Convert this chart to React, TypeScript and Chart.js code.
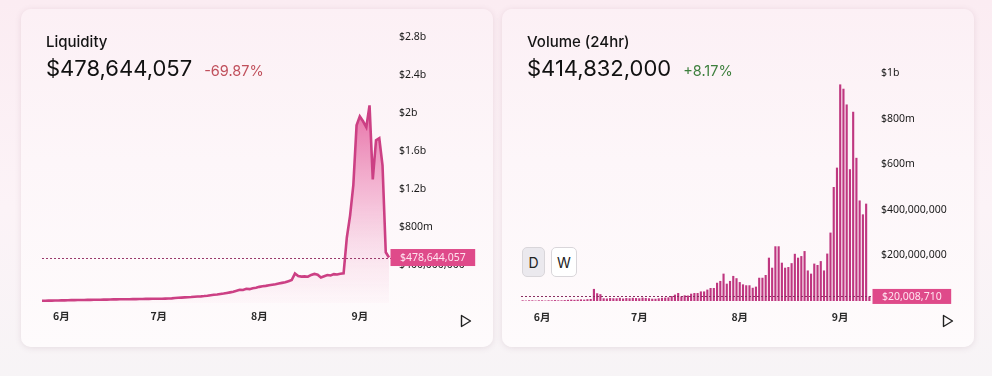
import React, { useEffect, useRef } from 'react';
import { Chart, registerables } from 'chart.js';

Chart.register(...registerables);

// ---- data -----------------------------------------------------------------
const monthSpans: [number, number, number][] = [
  [5, 26, 31],
  [6, 1, 30],
  [7, 1, 31],
  [8, 1, 31],
  [9, 1, 10],
];
const dateLabels: string[] = [];
for (const [m, a, b] of monthSpans) for (let d = a; d <= b; d++) dateLabels.push(`${m}-${d}`);

// liquidity, $ millions, one per day
const liquidityMay = [23, 24, 25, 25, 26, 27];
const liquidityJun = [28, 28, 29, 30, 30, 31, 31, 32, 33, 33, 34, 35, 35, 36, 36, 37, 38, 38, 39, 39, 40, 40, 41, 41, 42, 42, 43, 43, 44, 44];
const liquidityJul = [44, 45, 46, 47, 49, 52, 55, 57, 59, 61, 63, 66, 68, 70, 73, 77, 82, 86, 90, 95, 100, 106, 112, 118, 128, 140, 137, 150, 146, 156, 160];
const liquidityAug = [170, 176, 180, 186, 192, 198, 206, 212, 218, 230, 242, 310, 284, 278, 280, 277, 296, 306, 298, 268, 282, 295, 290, 304, 300, 308, 313, 690, 920, 1240, 1870];
const liquiditySep = [1964, 1913, 1850, 2080, 1300, 1713, 1734, 1450, 534, 478.644057];
const liquidityMillions = [...liquidityMay, ...liquidityJun, ...liquidityJul, ...liquidityAug, ...liquiditySep];

// volume (24hr), $ millions, one per day
const volumeMay = [3, 2, 3, 3, 2, 3];
const volumeJun = [3, 2, 3, 3, 4, 3, 3, 4, 5, 6, 5, 6, 7, 6, 8, 9, 53, 34, 30, 12, 11, 13, 12, 12, 14, 11, 13, 12, 14, 13];
const volumeJul = [12, 15, 13, 12, 10, 10, 12, 14, 15, 16, 22, 28, 35, 20, 25, 24, 32, 35, 35, 42, 42, 50, 57, 57, 80, 88, 120, 76, 88, 110, 100];
const volumeAug = [83, 73, 69, 69, 58, 63, 102, 102, 114, 190, 146, 240, 240, 168, 146, 149, 166, 207, 190, 197, 219, 134, 120, 164, 158, 175, 134, 208, 300, 500, 585];
const volumeSep = [950, 931, 862, 578, 830, 628, 441, 380, 427, 20.00871];
const volumeMillions = [...volumeMay, ...volumeJun, ...volumeJul, ...volumeAug, ...volumeSep];

const liquidityAxis = { max: 2800, step: 400 };
const volumeAxis = { max: 1000, step: 200 };

// ---- helpers --------------------------------------------------------------
const TICK_FONT = '"Noto Sans", sans-serif';

function formatTick(m: number): string {
  if (m === 0) return '';
  if (m < 500) return '$' + Math.round(m * 1e6).toLocaleString('en-US');
  if (m >= 1000) return '$' + m / 1000 + 'b';
  return '$' + m + 'm';
}

function monthTick(_v: any, i: number): string {
  const lab = dateLabels[i];
  if (!lab) return '';
  const [m, d] = lab.split('-');
  return d === '1' ? `${m}月` : '';
}

function lastValuePlugin(value: number, boxH: number, lineColor: string) {
  return {
    id: 'lastValue',
    afterDatasetsDraw(chart: any) {
      const { ctx, chartArea } = chart;
      const y = chart.scales.y.getPixelForValue(value);
      const yy = Math.round(y) + 0.5;
      ctx.save();
      ctx.strokeStyle = lineColor;
      ctx.lineWidth = 1;
      ctx.setLineDash([2, 2]);
      ctx.beginPath();
      ctx.moveTo(chartArea.left, yy);
      ctx.lineTo(chartArea.right + 2, yy);
      ctx.stroke();
      ctx.setLineDash([]);
      const text = '$' + Math.round(value * 1e6).toLocaleString('en-US');
      ctx.font = `10.5px ${TICK_FONT}`;
      const w = ctx.measureText(text).width;
      const x = chartArea.right + 1.5;
      ctx.fillStyle = '#df4a8a';
      ctx.fillRect(x, y - boxH / 2, w + 19, boxH);
      ctx.fillStyle = '#ffe3ef';
      ctx.textBaseline = 'middle';
      ctx.textAlign = 'left';
      ctx.fillText(text, x + 9.5, y + 0.5);
      ctx.restore();
    },
  };
}

const CARD_W = 472;
const CARD_H = 338;

function baseScales(axis: { max: number; step: number }, xPad: number, offset: boolean) {
  return {
    x: {
      type: 'category' as const,
      offset,
      grid: { display: false, drawTicks: false },
      border: { display: false },
      ticks: {
        autoSkip: false,
        maxRotation: 0,
        minRotation: 0,
        padding: xPad,
        color: '#2a2a2a',
        font: { family: '"Noto Sans CJK SC", sans-serif', size: 10.5, weight: 'bold' as const },
        callback: monthTick,
      },
      afterFit: (s: any) => {
        s.height = 30;
      },
    },
    y: {
      position: 'right' as const,
      min: 0,
      max: axis.max,
      grid: { display: false, drawTicks: false },
      border: { display: false },
      ticks: {
        stepSize: axis.step,
        padding: 10,
        color: '#1a1a1a',
        font: { family: TICK_FONT, size: 10.5 },
        callback: (v: any) => formatTick(Number(v)),
      },
      afterFit: (s: any) => {
        s.width = 84;
      },
    },
  };
}

function LiquidityChart() {
  const ref = useRef<HTMLCanvasElement>(null);
  useEffect(() => {
    if (!ref.current) return;
    const last = liquidityMillions[liquidityMillions.length - 1];
    const chart = new Chart(ref.current, {
      type: 'line',
      data: {
        labels: dateLabels,
        datasets: [
          {
            data: liquidityMillions,
            borderColor: '#cc4084',
            borderWidth: 2.6,
            pointRadius: 0,
            tension: 0,
            fill: 'origin',
            backgroundColor: (c: any) => {
              const { chart: ch } = c;
              const area = ch.chartArea;
              if (!area) return 'rgba(230,90,150,0.3)';
              const top = ch.scales.y.getPixelForValue(2100);
              const g = ch.ctx.createLinearGradient(0, top, 0, area.bottom);
              g.addColorStop(0, 'rgba(224,70,140,0.78)');
              g.addColorStop(0.5, 'rgba(232,105,165,0.38)');
              g.addColorStop(1, 'rgba(246,180,210,0.05)');
              return g;
            },
          },
        ],
      },
      options: {
        responsive: false,
        animation: false,
        events: [],
        layout: { padding: { left: 21, right: 20, top: 28, bottom: 14 } },
        plugins: { legend: { display: false }, tooltip: { enabled: false } },
        scales: baseScales(liquidityAxis, 7, false) as any,
      },
      plugins: [lastValuePlugin(last, 17, '#9a3a6c')],
    });
    return () => chart.destroy();
  }, []);
  return <canvas ref={ref} width={CARD_W} height={CARD_H} style={{ position: 'absolute', left: 0, top: 0, width: CARD_W, height: CARD_H }} />;
}

function VolumeChart() {
  const ref = useRef<HTMLCanvasElement>(null);
  useEffect(() => {
    if (!ref.current) return;
    const last = volumeMillions[volumeMillions.length - 1];
    const chart = new Chart(ref.current, {
      type: 'bar',
      data: {
        labels: dateLabels,
        datasets: [
          {
            data: volumeMillions,
            backgroundColor: '#bf3780',
            borderWidth: 0,
            barPercentage: 0.66,
            categoryPercentage: 1,
          },
        ],
      },
      options: {
        responsive: false,
        animation: false,
        events: [],
        layout: { padding: { left: 19, right: 19, top: 64, bottom: 16 } },
        plugins: { legend: { display: false }, tooltip: { enabled: false } },
        scales: baseScales(volumeAxis, 10, true) as any,
      },
      plugins: [lastValuePlugin(last, 15, '#8a2f62')],
    });
    return () => chart.destroy();
  }, []);
  return <canvas ref={ref} width={CARD_W} height={CARD_H} style={{ position: 'absolute', left: 0, top: 0, width: CARD_W, height: CARD_H }} />;
}

function PlayIcon({ left }: { left: number }) {
  return (
    <svg width={12} height={14} style={{ position: 'absolute', left, top: 305 }}>
      <polygon points="1.5,1.5 10.5,7 1.5,12.5" fill="none" stroke="#222" strokeWidth={1.4} strokeLinejoin="round" />
    </svg>
  );
}

function Header({ title, value, change, changeColor }: { title: string; value: string; change: string; changeColor: string }) {
  return (
    <>
      <div style={{ position: 'absolute', left: 25, top: 24, fontSize: 15, lineHeight: '18px', color: '#141414', fontWeight: 500, zIndex: 2 }}>{title}</div>
      <div style={{ position: 'absolute', left: 25, top: 46, display: 'flex', alignItems: 'baseline', whiteSpace: 'nowrap', zIndex: 2 }}>
        <span style={{ fontSize: 22, lineHeight: '26px', color: '#111' }}>{value}</span>
        <span style={{ fontSize: 14.5, lineHeight: '26px', color: changeColor, marginLeft: 12 }}>{change}</span>
      </div>
    </>
  );
}

const cardStyle = (left: number): React.CSSProperties => ({
  position: 'absolute',
  left,
  top: 9,
  width: CARD_W,
  height: CARD_H,
  borderRadius: 10,
  background: 'linear-gradient(180deg, #fcf0f5 0%, #fdf6f9 45%, #fefbfc 100%)',
  boxShadow: '0 1px 6px rgba(110, 60, 85, 0.13)',
  overflow: 'hidden',
});

const btn = (left: number, width: number, bg: string): React.CSSProperties => ({
  position: 'absolute',
  left,
  top: 238,
  width,
  height: 30,
  borderRadius: 5,
  border: '1px solid #d9d6da',
  background: bg,
  boxSizing: 'border-box',
  display: 'flex',
  alignItems: 'center',
  justifyContent: 'center',
  fontSize: 14,
  color: '#222',
  zIndex: 2,
});

export default function App() {
  return (
    <div
      style={{
        position: 'fixed',
        left: 0,
        top: 0,
        width: 992,
        height: 376,
        overflow: 'hidden',
        fontFamily: 'Inter, "Noto Sans", sans-serif',
        background: 'linear-gradient(180deg, #fbecf2 0%, #fcf3f7 55%, #f7f4f6 100%)',
      }}
    >
      <div style={cardStyle(21)}>
        <LiquidityChart />
        <Header title="Liquidity" value="$478,644,057" change="-69.87%" changeColor="#c0505c" />
        <PlayIcon left={439} />
      </div>
      <div style={cardStyle(502)}>
        <VolumeChart />
        <Header title="Volume (24hr)" value="$414,832,000" change="+8.17%" changeColor="#3d7f3d" />
        <div style={btn(20, 23, '#ebe9ee')}>D</div>
        <div style={btn(49, 26, '#ffffff')}>W</div>
        <PlayIcon left={440} />
      </div>
    </div>
  );
}
